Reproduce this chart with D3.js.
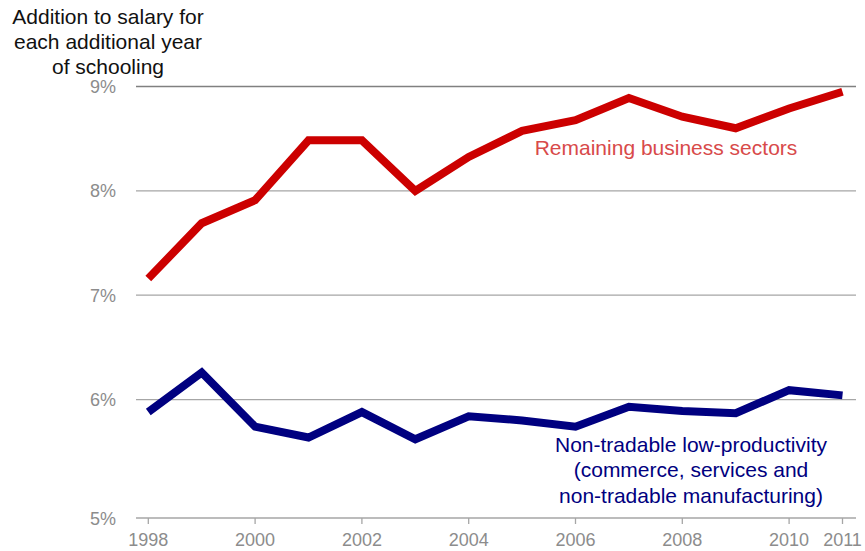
<!DOCTYPE html>
<html lang="en">
<head>
    <meta charset="UTF-8">
    <title>Returns to schooling</title>
    <script src="https://d3js.org/d3.v7.min.js"></script>
    <style>
        body { margin: 0; background: white; }
        text { font-family: Arial, "Liberation Sans", sans-serif; }
    </style>
</head>
<body>
    <script>
        var years = [1998, 1999, 2000, 2001, 2002, 2003, 2004, 2005, 2006, 2007, 2008, 2009, 2010, 2011];
        var remaining = [7.16, 7.69, 7.91, 8.485, 8.485, 8.0, 8.325, 8.575, 8.677, 8.89, 8.71, 8.60, 8.79, 8.95];
        var nonTradable = [5.88, 6.26, 5.74, 5.636, 5.88, 5.62, 5.84, 5.80, 5.74, 5.93, 5.89, 5.87, 6.09, 6.04];
        var yearTicks = [1998, 2000, 2002, 2004, 2006, 2008, 2010, 2011];
        var pctTicks = [6, 7, 8, 9];
        var axisBottomLabel = "5%";
        var yBottom = 4.865;   // the bottom axis sits a bit below 5 in the original
        var titleLines = ["Addition to salary for", "each additional year", "of schooling"];
        var redLabel = ["Remaining business sectors"];
        var blueLabel = ["Non-tradable low-productivity", "(commerce, services and", "non-tradable manufacturing)"];

        var width = 865, height = 551;
        var svg = d3.select("body").append("svg")
            .attr("width", width)
            .attr("height", height);

        var x = d3.scaleLinear().domain([1998, 2011]).range([148.3, 842.5]);
        var y = d3.scaleLinear().domain([yBottom, 9]).range([518, 86.5]);
        var gridLeft = 136, gridRight = 856;

        // gridlines
        svg.selectAll("line.grid")
            .data(pctTicks)
            .enter().append("line")
            .attr("x1", gridLeft).attr("x2", gridRight)
            .attr("y1", d => y(d)).attr("y2", d => y(d))
            .style("stroke", d => d == 9 ? "#808080" : "#a6a6a6")
            .style("stroke-width", 1.3);

        // bottom axis line
        svg.append("line")
            .attr("x1", gridLeft).attr("x2", gridRight)
            .attr("y1", y(yBottom)).attr("y2", y(yBottom))
            .style("stroke", "#a6a6a6")
            .style("stroke-width", 1.3);

        // y labels
        svg.selectAll("text.ylab")
            .data(pctTicks)
            .enter().append("text")
            .attr("x", 116).attr("y", d => y(d) + 6.5)
            .attr("text-anchor", "end")
            .style("font-size", "18px")
            .style("fill", "#8c8c8c")
            .text(d => d + "%");
        svg.append("text")
            .attr("x", 116).attr("y", y(yBottom) + 6.5)
            .attr("text-anchor", "end")
            .style("font-size", "18px")
            .style("fill", "#8c8c8c")
            .text(axisBottomLabel);

        // x ticks and labels
        svg.selectAll("line.xtick")
            .data(yearTicks)
            .enter().append("line")
            .attr("x1", d => x(d)).attr("x2", d => x(d))
            .attr("y1", y(yBottom)).attr("y2", y(yBottom) + 6)
            .style("stroke", "#a6a6a6")
            .style("stroke-width", 1.3);
        svg.selectAll("text.xlab")
            .data(yearTicks)
            .enter().append("text")
            .attr("x", d => x(d)).attr("y", 546)
            .attr("text-anchor", "middle")
            .style("font-size", "18px")
            .style("fill", "#8c8c8c")
            .text(d => d);

        // lines
        var line = d3.line()
            .x((d, i) => x(years[i]))
            .y(d => y(d));
        svg.append("path")
            .datum(remaining)
            .attr("d", line)
            .style("fill", "none")
            .style("stroke", "#cc0000")
            .style("stroke-width", 8);
        svg.append("path")
            .datum(nonTradable)
            .attr("d", line)
            .style("fill", "none")
            .style("stroke", "#000080")
            .style("stroke-width", 8);

        // title
        svg.selectAll("text.title")
            .data(titleLines)
            .enter().append("text")
            .attr("x", 108).attr("y", (d, i) => 24 + i * 25)
            .attr("text-anchor", "middle")
            .style("font-size", "21px")
            .style("fill", "#111")
            .text(d => d);

        // series labels
        svg.selectAll("text.redlab")
            .data(redLabel)
            .enter().append("text")
            .attr("x", 666).attr("y", (d, i) => 155 + i * 25)
            .attr("text-anchor", "middle")
            .style("font-size", "21px")
            .style("fill", "#d84a4a")
            .text(d => d);
        svg.selectAll("text.bluelab")
            .data(blueLabel)
            .enter().append("text")
            .attr("x", 691).attr("y", (d, i) => 452 + i * 25.3)
            .attr("text-anchor", "middle")
            .style("font-size", "21px")
            .style("fill", "#000080")
            .text(d => d);
    </script>
</body>
</html>
